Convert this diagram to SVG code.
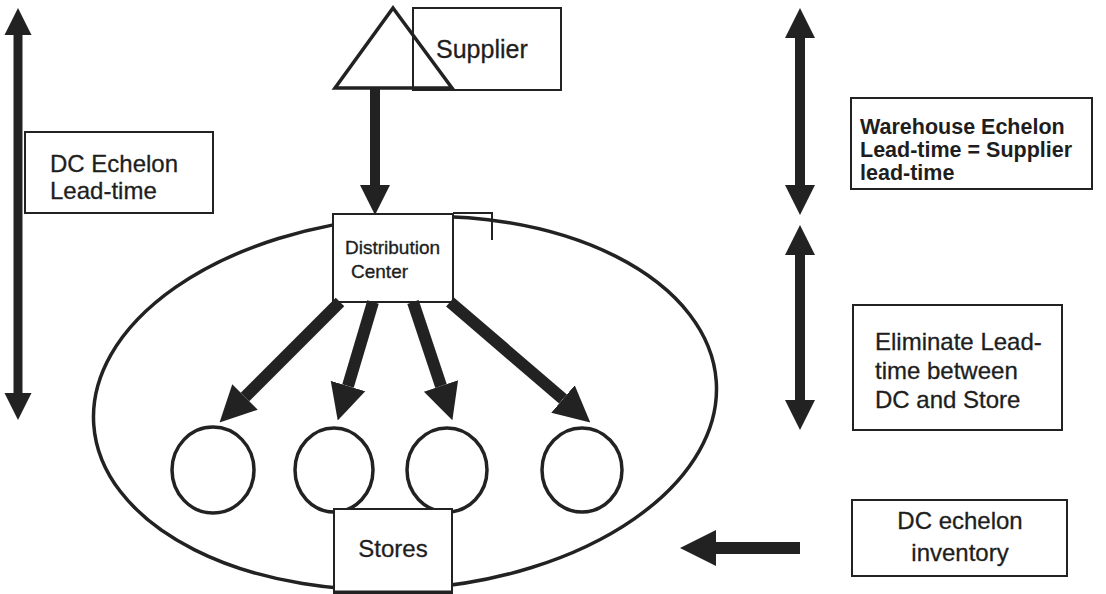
<svg xmlns="http://www.w3.org/2000/svg" width="1106" height="594" viewBox="0 0 1106 594">
<defs>
<marker id="ah" viewBox="0 0 10 10" refX="0" refY="5" markerWidth="3" markerHeight="3.2" orient="auto-start-reverse" markerUnits="strokeWidth">
<path d="M0,0 L10,5 L0,10 z" fill="#222"/>
</marker>
<style>
.t{font-family:"Liberation Sans",Arial,sans-serif;font-size:24px;fill:#1e1e1e;stroke:#1e1e1e;stroke-width:0.3}
.tb{font-family:"Liberation Sans",Arial,sans-serif;font-size:21.5px;font-weight:bold;fill:#1e1e1e}
.ts{font-family:"Liberation Sans",Arial,sans-serif;font-size:19px;fill:#1e1e1e;stroke:#1e1e1e;stroke-width:0.35}
.box{fill:#fff;stroke:#222;stroke-width:2}
.boxn{fill:none;stroke:#222;stroke-width:2}
.shape{fill:none;stroke:#222;stroke-width:3.5}
.ar{stroke:#222;fill:none;marker-end:url(#ah)}
.ar2{stroke:#222;fill:none;marker-start:url(#ah);marker-end:url(#ah)}
</style>
</defs>
<rect width="1106" height="594" fill="#fff"/>

<g id="dc-echelon-leadtime">
<rect class="box" x="25" y="132" width="188" height="81"/>
<text class="t" x="50" y="172">DC Echelon</text>
<text class="t" x="50" y="199">Lead-time</text>
</g>

<g id="supplier">
<polygon class="shape" points="393,8 452,88 335,88" stroke-width="3"/>
<rect class="boxn" x="413" y="8" width="148" height="82"/>
<text class="t" x="436" y="58" style="font-size:25px">Supplier</text>
</g>

<g id="dc-system">
<ellipse class="shape" cx="405" cy="403" rx="312" ry="186" transform="rotate(-4 405 403)"/>
</g>

<g id="distribution-center">
<polyline class="boxn" points="453,213 492,213 492,240"/>
<rect class="box" x="333" y="214" width="120" height="88"/>
<text class="ts" x="345" y="254">Distribution</text>
<text class="ts" x="351" y="278">Center</text>
</g>

<g id="store1"><ellipse class="shape" cx="213" cy="470" rx="41" ry="43" stroke-width="3"/></g>
<g id="store2"><ellipse class="shape" cx="334" cy="470" rx="39" ry="42" stroke-width="3"/></g>
<g id="store3"><ellipse class="shape" cx="447" cy="470" rx="40" ry="42" stroke-width="3"/></g>
<g id="store4"><ellipse class="shape" cx="582" cy="470" rx="40" ry="42" stroke-width="3"/></g>

<g id="stores">
<rect class="box" x="334" y="509" width="118" height="84"/>
<line x1="334" y1="592" x2="452" y2="592" stroke="#222" stroke-width="3"/>
<text class="t" x="393" y="557" text-anchor="middle">Stores</text>
</g>

<g id="warehouse-echelon">
<rect class="box" x="851" y="98" width="241" height="91"/>
<text class="tb" x="860" y="134">Warehouse Echelon</text>
<text class="tb" x="860" y="157">Lead-time = Supplier</text>
<text class="tb" x="860" y="180">lead-time</text>
</g>

<g id="eliminate-leadtime">
<rect class="box" x="853" y="305" width="209" height="125"/>
<text class="t" x="875" y="350">Eliminate Lead-</text>
<text class="t" x="875" y="379">time between</text>
<text class="t" x="875" y="408">DC and Store</text>
</g>

<g id="dc-echelon-inventory">
<rect class="box" x="852" y="500" width="215" height="76"/>
<text class="t" x="960" y="529" text-anchor="middle">DC echelon</text>
<text class="t" x="960" y="561" text-anchor="middle">inventory</text>
</g>

<g id="connectors">
<line class="ar2" x1="18" y1="35" x2="18" y2="393" stroke-width="9"/>
<line class="ar" x1="375" y1="88" x2="375" y2="185" stroke-width="10"/>
<line class="ar2" x1="800" y1="38" x2="800" y2="185" stroke-width="10"/>
<line class="ar2" x1="800" y1="255" x2="800" y2="400" stroke-width="10"/>
<line class="ar" x1="800" y1="548" x2="716" y2="548" stroke-width="12"/>
<line class="ar" x1="340" y1="302" x2="245" y2="397" stroke-width="12"/>
<line class="ar" x1="373" y1="302" x2="348" y2="386" stroke-width="12"/>
<line class="ar" x1="413" y1="302" x2="441" y2="386" stroke-width="12"/>
<line class="ar" x1="450" y1="302" x2="563" y2="399" stroke-width="12"/>
</g>
</svg>
